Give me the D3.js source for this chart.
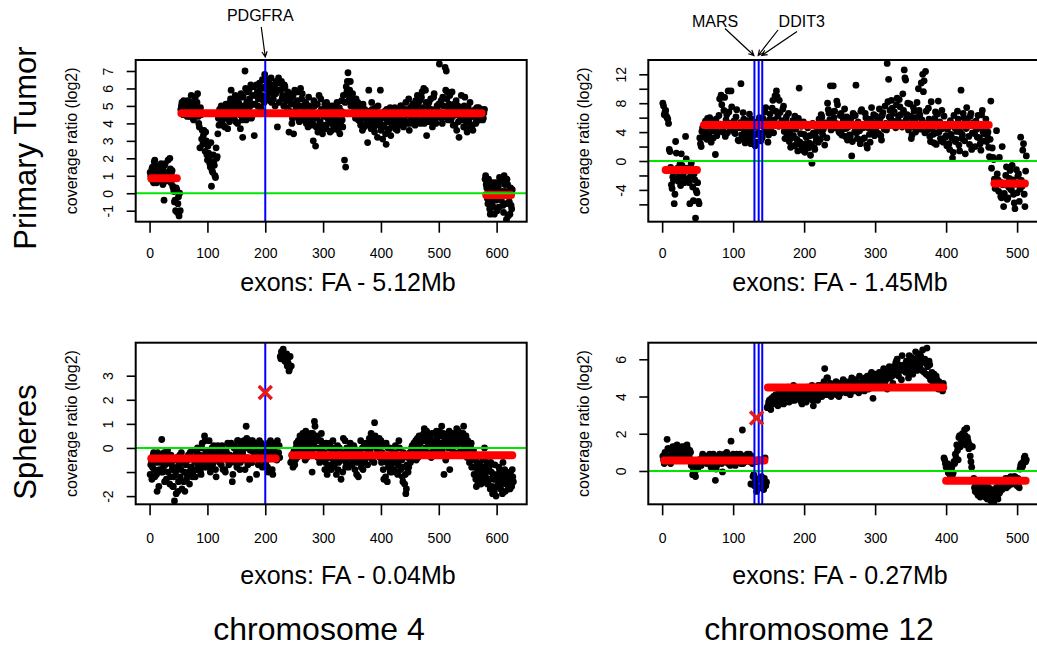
<!DOCTYPE html>
<html>
<head>
<meta charset="utf-8">
<script src="https://cdn.jsdelivr.net/npm/d3@7"></script>
<style>
  body { margin: 0; background: #fff; }
  svg { display: block; font-family: "Liberation Sans", Arial, Helvetica, sans-serif; }
</style>
</head>
<body>
<svg id="chart" width="1037" height="648"></svg>
<script>
// log2 coverage ratio per exon; "_odd" lists exons 1,3,5,..  "_even" lists exons 2,4,6,..

// chromosome 4, primary tumor
const chr4_tumor_odd = [
  1.2,0.8,1.5,0.6,1.9,1.0,0.7,1.3,1.6,0.9, 1.1,0.5,-0.4,1.7,0.8,1.2,1.0,2.0,0.6,1.3,
  0.3,-0.5,-1.0,0.2,-0.6,-1.3,-1.0,5.0,4.6,5.3, 4.8,5.2,4.4,4.9,5.0,4.6,5.2,4.3,4.9,5.5,
  4.7,5.7,4.0,2.6,4.5,3.6,3.3,2.9,3.5,2.2, 2.7,2.0,1.5,0.4,1.2,1.8,1.0,2.6,2.1,4.3,
  4.8,4.0,4.5,3.9,4.9,4.3,5.0,3.7,4.6,5.2, 5.9,4.4,4.8,5.3,4.1,5.0,4.6,5.5,3.7,4.9,
  3.2,5.0,7.0,4.2,5.8,4.8,5.4,6.2,4.4,5.1, 3.3,5.6,6.2,5.0,5.7,6.0,4.8,6.5,5.3,6.8,
  5.5,6.4,6.5,5.9,6.0,5.2,6.2,5.7,5.0,6.4, 3.8,6.6,5.9,6.3,5.4,6.0,6.2,5.5,4.6,5.8,
  3.5,5.7,5.1,4.3,3.4,5.9,4.8,5.3,4.5,4.1, 6.0,5.4,4.2,4.9,5.1,4.0,4.6,5.5,4.4,3.9,
  4.7,3.0,5.0,2.7,4.3,3.5,5.6,4.1,4.8,3.4, 4.4,5.1,3.7,4.6,4.0,5.0,4.3,3.6,4.9,4.2,
  5.0,3.8,4.5,4.1,3.4,4.7,4.2,5.6,1.9,1.5, 5.8,6.9,5.6,6.4,5.2,5.7,5.0,4.8,5.4,4.5,
  4.2,4.9,3.9,4.6,5.1,3.8,4.4,4.0,2.9,5.9, 4.5,3.7,4.8,4.1,3.5,4.6,4.0,5.0,3.9,5.9,
  4.3,3.1,3.8,4.7,2.8,4.2,3.6,4.5,3.3,4.0, 4.6,4.1,3.7,4.8,4.3,3.9,4.5,5.0,4.2,3.8,
  4.4,5.2,4.0,4.7,3.6,4.9,4.3,5.1,4.5,3.9, 4.8,5.6,4.1,5.3,4.6,5.8,4.3,4.0,5.9,3.3,
  4.6,5.2,4.1,4.8,3.8,5.5,4.4,4.0,5.0,4.7, 7.4,5.1,4.3,5.5,4.6,7.2,7.0,5.8,4.8,5.6,
  4.2,5.8,3.9,5.1,4.5,3.6,5.0,3.2,4.4,5.6, 4.7,3.8,5.5,4.1,3.5,4.9,4.3,3.9,4.6,3.6,
  4.4,4.8,4.1,4.6,4.9,4.2,4.7,4.5,4.3,4.8, 1.0,0.3,-0.6,0.5,-1.2,-0.1,0.6,-0.8,0.2,-0.4,
  -1.0,0.4,0.9,-0.3,0.7,-0.7,1.0,0.1,-1.5,0.5, -0.2,-1.2,-0.7,0.2
];
const chr4_tumor_even = [
  1.0,1.4,0.7,1.8,1.1,0.6,1.5,0.9,1.2,1.7, 0.8,1.3,1.6,0.7,1.1,1.9,0.9,1.4,1.2,0.4,
  0.1,-0.4,0.3,-1.1,-0.2,0.0,4.8,5.2,4.5,5.0, 5.1,4.5,5.3,4.7,4.4,5.6,4.9,4.2,5.0,4.6,
  5.2,4.4,3.8,4.9,3.1,2.8,3.6,2.4,3.0,1.9, 2.3,1.7,2.9,1.3,2.2,1.6,0.9,2.0,3.4,3.9,
  4.5,5.0,4.2,4.7,3.8,5.1,4.4,4.9,4.1,5.4, 4.6,5.0,4.3,5.6,4.8,4.0,5.2,4.5,5.7,4.2,
  5.5,4.7,6.0,5.2,4.5,5.9,5.0,4.3,5.6,6.1, 5.1,4.6,5.8,5.4,6.3,4.9,5.6,6.0,5.2,6.1,
  6.0,5.6,6.3,5.3,6.6,5.8,5.4,6.1,5.7,5.9, 6.3,5.2,5.9,6.4,5.6,5.0,6.1,5.3,4.9,5.5,
  4.7,5.4,4.0,5.6,4.4,5.1,4.6,5.8,4.2,5.0, 4.5,5.7,4.8,4.3,5.2,4.6,3.8,5.0,4.2,4.8,
  4.0,5.3,4.4,3.8,5.1,4.5,4.0,5.4,3.7,4.6, 4.8,3.9,5.2,4.3,4.7,3.5,4.5,5.0,3.9,4.6,
  4.3,5.2,3.6,4.9,4.0,5.3,3.8,4.6,5.2,6.1, 6.4,5.3,5.9,5.0,5.5,4.6,5.1,4.3,4.9,5.2,
  4.6,4.1,5.0,3.6,4.3,4.8,3.9,4.5,4.2,4.7, 4.0,5.2,4.4,3.8,4.9,4.3,3.2,4.6,4.1,3.6,
  4.6,3.9,4.4,3.4,4.8,4.1,3.7,4.9,4.3,3.9, 4.2,4.9,4.4,3.6,4.7,4.1,5.0,4.4,3.9,4.6,
  4.8,4.1,4.5,5.4,4.0,4.6,5.0,4.2,4.8,5.3, 4.4,5.1,4.7,4.0,5.5,4.9,6.0,4.5,5.2,4.1,
  4.9,4.3,5.4,4.1,4.6,5.7,4.2,4.8,4.4,5.1, 4.6,5.3,4.0,5.0,4.4,5.9,5.4,4.2,5.1,4.5,
  5.0,4.4,4.8,3.9,5.3,4.6,4.1,4.9,4.3,4.7, 4.2,5.0,4.5,3.7,4.8,4.1,5.2,4.4,3.9,4.7,
  4.6,4.0,4.9,4.3,4.7,4.5,4.8,4.2,4.6,0.8, 0.5,-0.3,0.8,-0.9,0.2,-0.5,0.4,-1.2,0.6,-0.2,
  0.3,-0.8,0.7,-0.4,0.1,-1.1,0.5,-0.6,0.8,-1.3, -0.5,0.3,-0.9
];
// segments: [first exon, last exon, segment mean]
const chr4_tumor_segments = [[3, 47, 0.86], [55, 574, 4.58], [582, 625, -0.1]];

// chromosome 12, primary tumor
const chr12_tumor_odd = [
  8.0,6.4,7.0,6.0,5.2,1.3,-3.3,-2.2,-5.9,2.7, -1.5,-2.8,-0.5,1.0,-2.0,-3.0,3.4,-1.0,-2.4,-5.9,
  -0.3,-3.6,-1.8,-7.9,-4.4,-5.6,3.2,2.0,4.6,3.8, 5.5,3.0,4.8,6.0,2.6,4.2,5.3,0.9,3.5,5.0,
  8.6,9.1,4.0,7.0,3.4,6.4,9.7,5.2,9.7,4.4, 5.5,3.8,7.1,2.9,4.6,10.7,3.2,5.8,2.5,4.3,
  3.6,6.5,2.4,4.0,5.3,2.1,3.7,4.8,6.0,2.8, 3.3,5.1,6.8,4.2,2.6,5.7,4.5,7.3,3.9,9.0,
  9.7,6.2,8.4,4.9,5.6,7.6,3.1,6.1,4.3,2.7, 1.9,4.8,3.5,6.2,2.3,1.4,10.1,3.8,2.0,5.4,
  1.2,3.3,4.6,2.5,0.8,-0.3,3.9,1.6,2.8,4.2, 5.8,3.0,6.1,4.4,2.2,5.1,8.0,6.6,10.4,5.5,
  10.4,6.9,5.2,7.8,4.1,6.3,3.6,5.6,7.2,4.5, 2.9,5.8,3.4,0.7,6.6,4.0,10.5,3.1,5.0,2.4,
  7.1,4.6,3.2,6.0,1.8,5.5,2.6,7.4,4.2,3.5, 6.2,4.8,3.8,5.9,2.9,6.7,4.4,5.2,13.5,11.3,
  7.0,8.4,5.5,6.8,4.6,8.7,6.2,7.5,5.3,9.3, 12.6,11.2,6.4,4.3,7.9,3.1,5.6,6.9,4.0,8.1,
  10.0,6.4,10.8,12.0,11.1,12.4,5.2,7.3,3.4,8.2, 4.6,2.5,6.8,3.9,8.3,5.4,2.8,4.5,6.2,3.3,
  2.1,5.0,1.6,3.7,0.4,6.3,2.7,4.1,5.8,1.4, 9.8,3.6,6.0,1.0,7.4,4.8,2.3,6.6,3.9,5.3,
  2.0,4.4,6.3,3.2,1.5,7.0,3.8,5.2,2.7,4.0, 0.6,8.3,1.8,0.2,-3.8,4.2,-2.6,0.5,-4.9,2.0,
  -6.3,-3.1,-0.8,-5.1,-2.4,-3.9,-0.6,-4.6,-6.6,-1.2, -2.1,-5.6,3.3,-3.5,2.4,-6.3,0.7
];
const chr12_tumor_even = [
  7.6,6.8,6.2,5.8,1.6,-0.9,-3.8,-2.7,-4.6,1.1, -1.0,-2.2,-3.4,-0.6,-1.7,-2.6,0.3,-1.3,-3.0,-2.1,
  -1.1,-5.5,-2.6,-4.1,-3.0,-5.9,2.4,4.1,3.3,5.1, 4.3,5.9,3.6,4.7,5.5,3.2,4.4,5.8,4.0,6.3,
  5.1,7.8,4.6,8.8,5.7,3.9,6.8,4.3,7.5,5.0, 3.9,6.1,4.7,2.8,5.3,3.6,6.7,4.1,3.0,5.6,
  4.4,2.9,5.8,3.5,4.7,2.6,5.4,3.9,4.9,3.1, 5.9,4.0,7.4,5.2,3.6,6.5,4.8,8.4,5.7,6.9,
  8.9,4.8,6.7,5.3,7.2,4.1,5.5,3.5,6.6,4.0, 3.2,5.6,2.1,4.4,3.0,5.9,2.6,4.8,1.5,3.7,
  2.4,4.9,1.8,3.5,2.3,5.2,1.9,3.4,4.7,2.6, 4.5,6.4,3.7,5.3,4.9,3.2,7.1,5.7,4.3,6.8,
  6.0,4.6,8.3,5.0,3.9,6.6,4.4,5.9,3.4,6.1, 4.7,3.6,5.9,2.7,4.8,6.3,3.9,5.4,4.2,6.9,
  3.0,5.0,6.6,2.2,4.6,3.7,5.8,4.9,6.4,5.3, 4.0,5.5,7.2,3.5,6.3,5.0,7.6,4.3,8.2,6.1,
  5.9,7.3,6.6,4.9,7.8,5.6,8.5,6.4,4.7,7.0, 11.5,5.8,8.0,4.9,6.2,3.6,7.4,4.6,6.0,5.1,
  7.0,4.4,5.7,9.6,3.9,6.9,4.3,5.8,2.7,4.5, 3.7,5.9,2.3,6.5,4.0,3.1,7.0,2.6,4.8,3.5,
  4.4,2.4,5.6,3.2,1.2,4.6,3.0,6.9,2.2,4.0, 3.1,6.6,2.8,4.5,5.7,3.4,6.2,1.6,4.9,3.8,
  5.5,3.3,4.7,2.4,6.4,4.1,2.8,5.8,3.6,1.9, 3.0,-1.0,0.5,-2.5,-3.6,-1.8,-4.2,-2.9,-5.1,-3.3,
  -4.5,-2.0,-5.3,-3.6,-1.3,-4.0,-2.6,-5.8,-3.2,-4.4, -1.8,-3.9,-2.7,1.5,-4.6,-1.4
];
const chr12_tumor_segments = [[5, 49, -1.25], [59, 460, 4.98], [468, 511, -3.1]];

// chromosome 4, spheres
const chr4_spheres_odd = [
  -1.1,-0.5,-0.8,-0.2,-1.2,-0.6,-1.8,-0.4,-0.9,-0.3, 0.35,-1.0,-0.2,-0.7,-1.3,-0.1,-0.6,-1.5,-0.3,-0.9,
  -1.6,-2.2,-1.0,-0.4,-1.8,-0.7,-1.2,-0.2,-0.5,-1.4, -1.8,-0.6,-1.1,-0.3,-1.5,-0.8,-0.1,-1.0,-0.4,-1.2,
  -0.5,0.0,-0.9,-0.3,-1.1,0.2,-0.6,0.5,-0.2,-0.8, -0.4,0.3,-1.0,-0.1,-0.7,0.1,-0.5,-1.2,-0.2,0.0,
  -0.6,-0.3,0.1,-0.9,-0.4,-1.0,-0.2,0.2,-0.7,-0.3, 0.2,-1.4,-0.5,0.1,-0.3,-0.8,0.3,-0.1,-0.6,0.2,
  -0.2,0.3,-0.9,0.9,-0.4,0.0,-1.3,0.3,-0.6,0.1, -0.3,0.2,-1.1,-0.1,0.1,-0.5,0.2,-0.8,-0.2,0.0,
  -0.6,0.1,-1.0,-0.3,0.3,-0.4,-1.1,0.0,-0.2,0.2, 0.3,-0.2,-0.4,3.7,3.9,4.1,3.8,3.6,3.9,3.7,
  3.2,3.8,3.4,-0.5,-0.2,-0.7,0.0,-0.4,0.3,-0.1, 0.4,-0.3,0.6,0.1,-0.5,0.3,0.5,-0.1,0.2,0.6,
  -1.0,0.4,1.1,0.0,0.5,-0.4,0.3,-0.2,0.6,0.1, -0.5,-0.9,0.2,-1.1,-0.3,0.0,-0.7,-0.4,0.3,-0.8,
  -0.2,-1.1,0.1,-0.6,-0.3,-1.3,-0.5,0.4,-0.2,-0.8, 0.0,-0.4,-0.7,0.2,-0.1,-0.5,0.1,-0.9,-0.3,-0.6,
  -1.2,-0.2,0.3,-0.6,-0.9,0.1,-0.4,0.0,-0.7,0.2, -0.1,0.6,-0.5,0.3,1.05,0.2,-0.3,0.1,0.4,-0.2,
  -0.6,0.1,-1.3,-0.4,0.2,-1.4,-0.8,0.0,-0.5,-1.0, -0.3,-0.9,0.1,-0.6,-1.1,0.3,-0.4,-0.8,-1.2,-0.2,
  -1.5,-1.9,-0.7,-1.0,-0.3,-0.6,0.0,-0.4,0.2,-0.1, -0.5,0.4,0.1,-0.3,0.5,-0.2,0.3,0.8,0.0,0.7,
  -0.3,0.2,0.5,-0.4,0.3,0.0,0.6,-0.1,0.4,0.2, 0.7,-0.2,0.9,0.1,-1.1,0.3,-0.4,0.5,0.0,-0.9,
  0.4,0.1,-0.2,0.5,0.2,0.8,-0.3,0.4,0.6,-0.1, 0.3,0.9,0.0,0.5,-0.4,0.2,-0.6,0.1,-0.8,-0.4,
  -1.1,-0.5,-1.6,-0.9,-1.3,-0.7,-1.5,-1.0,-0.3,0.0, -1.2,-0.6,-1.4,-0.8,-1.7,-1.0,-1.9,-1.3,-0.7,-2.0,
  -1.1,-1.5,-0.9,-1.7,-1.2,-0.6,-1.4,-1.8,-1.0,-1.5, -1.3,-1.7,-1.2,-0.9,-1.4
];
const chr4_spheres_even = [
  -0.7,-1.3,-0.3,-0.9,-0.5,-1.1,-0.2,-1.6,-0.6,-1.0, -0.4,-0.8,-1.4,-0.3,-0.6,-1.0,-0.5,-1.2,-0.7,-1.6,
  -1.2,-0.5,-1.9,-0.8,-1.4,-0.3,-0.9,-1.7,-0.6,-1.0, -0.7,-1.3,-0.5,-1.0,-0.2,-0.8,-1.2,-0.4,-0.6,-0.9,
  -0.2,-0.7,-0.4,-1.0,0.0,-0.5,-0.8,0.3,-0.4,-0.6, -0.1,-0.8,-0.3,0.0,-0.6,-0.2,-0.9,-0.4,0.1,-0.5,
  -0.2,-0.7,0.0,-0.4,-0.9,-0.1,-0.5,-0.3,0.1,-0.6, -0.4,-1.1,0.0,-0.6,-0.2,0.3,-0.4,-0.9,0.1,-0.3,
  0.2,-0.5,0.0,0.4,-0.7,0.2,-0.1,-0.6,0.3,-0.2, 0.1,-0.4,0.0,-0.7,0.3,-0.2,-0.5,0.1,-0.3,-0.6,
  -0.2,-0.8,0.2,-0.4,-0.1,-0.9,0.1,-0.3,0.2,-0.5, -0.3,0.1,3.8,4.0,3.7,3.9,3.6,3.8,3.4,3.5,
  3.3,-0.6,-0.3,-0.8,-0.1,-0.5,0.2,-0.3,0.0,0.5, 0.2,-0.2,0.4,0.0,0.7,-0.4,0.3,0.1,0.5,-0.1,
  0.6,0.2,0.9,-0.3,0.4,0.0,-0.6,0.3,-0.1,0.2, -0.2,-0.6,0.1,-0.8,-0.4,0.2,-0.9,-0.1,-0.5,0.0,
  -0.6,-0.3,-0.9,0.0,-0.5,-0.2,-1.0,-0.4,0.3,-0.6, -0.2,-0.8,-0.4,0.1,-0.7,-0.3,0.0,-0.5,-1.1,-0.2,
  -0.5,-0.1,-0.8,0.0,-0.3,-0.6,0.2,-0.4,-0.1,0.4, 0.1,-0.3,0.3,-0.6,0.5,0.0,-0.2,0.2,-0.4,0.3,
  -0.2,-0.9,-0.4,-1.2,-0.6,0.0,-0.3,-1.0,-0.7,-0.2, -0.6,-0.2,-1.0,-0.4,-0.7,0.0,-0.9,-0.5,-1.4,-0.8,
  -1.1,-1.7,-0.4,-0.8,-0.2,-0.5,0.1,-0.3,0.0,0.3, 0.0,-0.4,0.5,0.2,-0.1,0.4,0.6,-0.2,0.3,0.5,
  0.1,0.4,-0.2,0.6,0.2,-0.3,0.3,0.7,0.0,0.5, 0.2,0.5,-0.1,0.6,0.3,-0.5,0.4,0.1,0.7,0.2,
  0.0,0.6,0.3,-0.2,0.5,0.1,0.7,0.2,-0.1,0.4, 0.6,0.1,0.4,-0.2,0.3,0.0,-0.3,0.2,-0.5,-0.1,
  -0.8,-1.3,-0.6,-1.5,-1.1,-0.9,-1.2,-0.5,-1.4,-0.8, -1.0,-1.5,-0.9,-1.3,-0.6,-1.6,-1.1,-1.8,-1.3,-1.6,
  -1.3,-0.8,-1.6,-1.1,-1.9,-1.4,-0.9,-1.5,-1.2,-1.7, -1.5,-1.0,-1.6,-1.2
];
const chr4_spheres_segments = [[3, 218, -0.44], [247, 627, -0.3]];

// chromosome 12, spheres
const chr12_spheres_odd = [
  0.8,0.4,0.6,1.7,1.2,0.5,0.9,1.3,0.7,1.1, 1.4,0.8,1.2,0.6,1.0,1.3,0.9,1.4,0.7,1.1,
  0.3,-0.2,0.1,-0.3,0.4,0.2,0.6,0.3,0.9,0.5, 0.8,0.4,0.7,0.9,0.2,0.6,0.8,-0.5,0.3,0.7,
  0.9,0.5,-0.05,0.8,0.6,1.0,0.4,0.7,1.6,0.5, 0.8,0.3,0.9,0.6,0.7,0.4,2.2,0.8,0.5,0.7,
  0.6,0.9,-0.7,0.4,-0.2,-0.6,-1.1,0.6,-0.4,-0.9, -0.5,-1.0,0.7,-0.6,3.5,3.8,3.3,3.6,4.0,3.7,
  3.9,3.5,4.2,3.8,4.4,3.6,4.1,3.9,4.5,3.7, 4.3,4.0,4.6,3.8,4.2,4.4,3.9,4.1,3.6,4.3,
  4.0,3.7,4.5,3.9,4.2,4.6,3.5,4.1,4.4,3.8, 4.3,4.6,4.0,4.4,5.5,4.1,5.0,4.3,4.7,4.2,
  4.5,4.2,4.8,4.4,4.0,4.7,4.3,4.9,4.5,4.2, 4.6,4.4,4.1,5.0,4.5,4.3,4.8,4.6,4.2,4.7,
  4.5,4.9,4.3,4.7,5.1,4.4,4.8,5.3,3.9,4.9, 5.2,4.6,5.0,4.8,5.3,4.5,5.1,4.9,4.4,5.4,
  5.0,5.5,4.7,5.2,5.8,6.0,5.1,5.6,4.9,5.4, 5.7,5.3,5.9,5.0,5.5,6.1,5.2,5.8,6.4,5.4,
  5.9,5.6,6.0,6.5,5.3,5.8,6.6,5.1,5.7,5.0, 4.8,5.2,4.6,4.9,4.4,4.7,4.5,4.3,0.7,0.4,
  0.2,-0.1,0.3,0.1,-0.2,0.5,0.9,1.4,0.6,1.9, 1.5,2.0,1.7,1.9,2.3,1.6,1.4,0.5,1.3,-0.4,
  -1.1,-0.7,-1.3,-0.9,-1.2,-0.6,-1.0,-1.4,-0.8,-1.1, -1.3,-1.6,-1.0,-1.7,-1.4,-0.9,-1.5,-1.2,-0.7,-1.0,
  -0.8,-0.5,-0.9,-0.4,-0.6,-0.3,-0.7,-0.5,-0.3,-0.6, -0.4,-0.9,0.3,0.2,0.5,0.8,0.6
];
const chr12_spheres_even = [
  0.6,1.0,0.5,1.2,0.8,0.4,1.1,0.7,1.3,0.9, 1.0,1.2,0.7,1.3,0.9,1.1,0.6,1.2,0.8,1.0,
  0.5,0.0,-0.2,0.3,0.1,0.6,0.4,0.7,0.5,0.8, 0.6,0.8,0.5,0.7,0.3,0.9,0.5,0.1,0.6,0.8,
  0.7,0.4,0.6,0.9,0.5,0.8,0.6,0.3,0.7,0.9, 0.6,0.8,0.5,0.7,0.9,0.6,0.4,0.8,0.6,0.9,
  0.7,0.5,0.8,-0.3,-0.8,0.5,-0.5,-0.9,0.6,-0.3, -0.7,-0.4,-0.8,3.4,3.7,3.5,3.9,3.6,3.8,4.1,
  3.7,4.0,3.6,4.3,3.8,4.1,3.7,4.4,4.0,3.8, 4.1,3.8,4.2,4.5,3.9,4.0,4.3,3.7,4.2,4.0,
  4.2,4.4,3.9,4.1,4.3,3.8,4.5,4.0,4.2,4.6, 4.1,4.5,4.2,4.8,4.4,5.0,4.3,4.6,4.0,4.4,
  4.3,4.6,4.1,4.5,4.7,4.2,4.6,4.4,4.8,4.3, 4.5,4.8,4.3,4.6,4.4,4.9,4.7,4.4,5.1,4.6,
  4.8,4.5,5.0,4.6,4.9,4.7,5.2,4.6,5.0,4.8, 5.0,4.7,5.3,4.9,5.1,5.5,4.8,5.2,5.0,5.6,
  5.3,5.1,5.6,5.4,5.9,5.2,5.7,5.5,6.2,5.6, 5.5,5.9,5.6,6.2,5.3,5.8,5.6,6.0,5.5,6.3,
  5.7,6.2,5.4,5.9,6.0,5.2,5.6,5.9,4.9,5.3, 5.0,4.7,5.1,4.5,4.8,4.6,4.4,4.7,0.6,0.2,
  0.4,0.0,-0.3,0.2,-0.1,0.4,0.7,1.1,1.8,1.3, 1.9,1.6,2.2,1.4,1.8,1.2,0.8,0.2,-0.5,-0.9,
  -0.8,-1.2,-0.7,-1.4,-1.0,-1.3,-0.9,-1.2,-1.5,-0.9, -1.2,-1.4,-1.8,-1.1,-1.5,-1.3,-0.8,-1.1,-0.9,-0.6,
  -0.7,-0.4,-0.6,-0.8,-0.5,-0.4,-0.6,-0.3,-0.5,-0.8, -0.6,0.1,0.4,0.3,0.7,0.5
];
const chr12_spheres_segments = [[3, 144, 0.56], [149, 396, 4.48], [400, 512, -0.52]];

// gene positions (exon index) and the red-cross calls in spheres [exon, log2 ratio]
const chr4_genes = [200];
const chr12_genes = [130, 136, 141];
const chr4_sphere_call = [200, 2.3];
const chr12_sphere_call = [133, 2.85];

// axis ticks
const chr4_xticks = [0, 100, 200, 300, 400, 500, 600];
const chr12_xticks = [0, 100, 200, 300, 400, 500];
const chr4_tumor_yticks = [-1, 0, 1, 2, 3, 4, 5, 6, 7];
const chr4_tumor_ylabels = [-1, 0, 1, 2, 3, 4, 5, 6, 7];
const chr12_tumor_yticks = [-6, -4, -2, 0, 2, 4, 6, 8, 10, 12];
const chr12_tumor_ylabels = [-4, 0, 4, 8, 12];
const chr4_spheres_yticks = [-2, -1, 0, 1, 2, 3];
const chr4_spheres_ylabels = [-2, 0, 1, 2, 3];
const chr12_spheres_yticks = [0, 2, 4, 6];
const chr12_spheres_ylabels = [0, 2, 4, 6];

const xlabels = ["exons: FA - 5.12Mb", "exons: FA - 1.45Mb", "exons: FA - 0.04Mb", "exons: FA - 0.27Mb"];
const row_titles = ["Primary Tumor", "Spheres"];
const col_titles = ["chromosome 4", "chromosome 12"];

const svg = d3.select("#chart");

const panels = [
  { id: 1, odd: chr4_tumor_odd, even: chr4_tumor_even, segments: chr4_tumor_segments, genes: chr4_genes, cross: null,
    xdom: [-24, 652], ydom: [-1.63, 7.63], xticks: chr4_xticks, yticks: chr4_tumor_yticks, ylabels: chr4_tumor_ylabels,
    left: 135.7, right: 526.7, top: 60, bottom: 221.7, tickBase: 258.3, xlab: xlabels[0], xlabX: 348, xlabY: 290.7 },
  { id: 2, odd: chr12_tumor_odd, even: chr12_tumor_even, segments: chr12_tumor_segments, genes: chr12_genes, cross: null,
    xdom: [-19.5, 534.5], ydom: [-8.40, 13.98], xticks: chr12_xticks, yticks: chr12_tumor_yticks, ylabels: chr12_tumor_ylabels,
    left: 648.3, right: 1041.6, top: 60, bottom: 221.7, tickBase: 258.3, xlab: xlabels[1], xlabX: 840, xlabY: 290.7 },
  { id: 3, odd: chr4_spheres_odd, even: chr4_spheres_even, segments: chr4_spheres_segments, genes: chr4_genes, cross: chr4_sphere_call,
    xdom: [-24, 652], ydom: [-2.34, 4.37], xticks: chr4_xticks, yticks: chr4_spheres_yticks, ylabels: chr4_spheres_ylabels,
    left: 135.7, right: 526.7, top: 342.7, bottom: 504.3, tickBase: 543.3, xlab: xlabels[2], xlabX: 348, xlabY: 584 },
  { id: 4, odd: chr12_spheres_odd, even: chr12_spheres_even, segments: chr12_spheres_segments, genes: chr12_genes, cross: chr12_sphere_call,
    xdom: [-19.5, 534.5], ydom: [-1.79, 6.89], xticks: chr12_xticks, yticks: chr12_spheres_yticks, ylabels: chr12_spheres_ylabels,
    left: 648.3, right: 1041.6, top: 342.7, bottom: 504.3, tickBase: 543.3, xlab: xlabels[3], xlabX: 840, xlabY: 584 }
];

const scales = {};

panels.forEach(p => {
  const x_scale = d3.scaleLinear().domain(p.xdom).range([p.left, p.right]);
  const y_scale = d3.scaleLinear().domain(p.ydom).range([p.bottom, p.top]);
  scales[p.id] = { x_scale, y_scale };

  const g = svg.append("g").attr("class", "panel" + p.id);
  svg.append("clipPath").attr("id", "clip" + p.id)
    .append("rect")
    .attr("x", p.left).attr("y", p.top)
    .attr("width", p.right - p.left).attr("height", p.bottom - p.top);

  const plot = g.append("g").attr("clip-path", `url(#clip${p.id})`);

  const pts = p.odd.map((v, k) => ({ i: 1 + 2 * k, v }))
    .concat(p.even.map((v, k) => ({ i: 2 + 2 * k, v })))
    .sort((a, b) => a.i - b.i);

  // points
  plot.selectAll("circle")
    .data(pts)
    .join("circle")
    .attr("cx", d => x_scale(d.i))
    .attr("cy", d => y_scale(d.v))
    .attr("r", 3.4)
    .attr("fill", "#000");

  // segment means
  plot.selectAll(".seg")
    .data(p.segments)
    .join("line")
    .attr("class", "seg")
    .attr("x1", d => x_scale(d[0]))
    .attr("x2", d => x_scale(d[1]))
    .attr("y1", d => y_scale(d[2]))
    .attr("y2", d => y_scale(d[2]))
    .attr("stroke", "#ff0000")
    .attr("stroke-width", 8)
    .attr("stroke-linecap", "round");

  // zero line
  plot.append("line")
    .attr("x1", p.left).attr("x2", p.right)
    .attr("y1", y_scale(0)).attr("y2", y_scale(0))
    .attr("stroke", "#00e600")
    .attr("stroke-width", 2);

  // gene positions
  plot.selectAll(".gene")
    .data(p.genes)
    .join("line")
    .attr("class", "gene")
    .attr("x1", d => x_scale(d)).attr("x2", d => x_scale(d))
    .attr("y1", p.top).attr("y2", p.bottom)
    .attr("stroke", "#0000ff")
    .attr("stroke-width", 2);

  // red cross for the sphere call
  if (p.cross) {
    const cx = x_scale(p.cross[0]), cy = y_scale(p.cross[1]), s = 6.5;
    g.append("path")
      .attr("d", `M${cx - s},${cy - s}L${cx + s},${cy + s}M${cx - s},${cy + s}L${cx + s},${cy - s}`)
      .attr("stroke", "#e41a1c")
      .attr("stroke-width", 3.5)
      .attr("fill", "none");
  }

  // box
  g.append("rect")
    .attr("x", p.left).attr("y", p.top)
    .attr("width", p.right - p.left).attr("height", p.bottom - p.top)
    .attr("fill", "none")
    .attr("stroke", "#000")
    .attr("stroke-width", 2);

  // x axis
  const xa = g.append("g")
    .attr("transform", `translate(0, ${p.bottom})`)
    .call(d3.axisBottom(x_scale).tickValues(p.xticks).tickSize(11).tickFormat(d3.format("d")));
  xa.select(".domain").remove();
  xa.selectAll("line").attr("stroke-width", 1.6);
  xa.selectAll("text")
    .attr("y", p.tickBase - p.bottom)
    .attr("dy", null)
    .attr("font-size", 14)
    .attr("font-family", null)
    .attr("fill", "#000");

  // y axis
  const ya = g.append("g")
    .attr("transform", `translate(${p.left}, 0)`)
    .call(d3.axisLeft(y_scale).tickValues(p.yticks).tickSize(9)
      .tickFormat(d => p.ylabels.includes(d) ? String(d) : ""));
  ya.select(".domain").remove();
  ya.selectAll("line").attr("stroke-width", 1.6);
  ya.selectAll("text")
    .attr("x", null).attr("dy", null)
    .attr("text-anchor", "middle")
    .attr("transform", "translate(-22.5, 0) rotate(-90)")
    .attr("font-size", 14)
    .attr("font-family", null)
    .attr("fill", "#000");

  // axis titles
  g.append("text")
    .attr("transform", `translate(${p.left - 59}, ${(p.top + p.bottom) / 2}) rotate(-90)`)
    .attr("text-anchor", "middle")
    .attr("font-size", 16)
    .text("coverage ratio (log2)");

  g.append("text")
    .attr("x", p.xlabX).attr("y", p.xlabY)
    .attr("text-anchor", "middle")
    .attr("font-size", 25)
    .text(p.xlab);
});

// gene labels with pointers
function pointer(x1, y1, x2, y2) {
  const ang = Math.atan2(y2 - y1, x2 - x1), len = 6, spread = 0.45;
  svg.append("path")
    .attr("d", `M${x1},${y1}L${x2},${y2}` +
      `M${x2 - len * Math.cos(ang - spread)},${y2 - len * Math.sin(ang - spread)}L${x2},${y2}` +
      `L${x2 - len * Math.cos(ang + spread)},${y2 - len * Math.sin(ang + spread)}`)
    .attr("stroke", "#000")
    .attr("stroke-width", 1.2)
    .attr("fill", "none");
}

const s1 = scales[1], s2 = scales[2];
svg.append("text").attr("x", s1.x_scale(chr4_genes[0]) - 5).attr("y", 20.7)
  .attr("text-anchor", "middle").attr("font-size", 16).text("PDGFRA");
pointer(s1.x_scale(chr4_genes[0]) - 4, 27, s1.x_scale(chr4_genes[0]), 57);

svg.append("text").attr("x", 715).attr("y", 26.7)
  .attr("text-anchor", "middle").attr("font-size", 16).text("MARS");
svg.append("text").attr("x", 801.7).attr("y", 26.7)
  .attr("text-anchor", "middle").attr("font-size", 16).text("DDIT3");
pointer(725, 28.5, s2.x_scale(chr12_genes[0]) - 0.5, 55.5);
pointer(778, 30, s2.x_scale(chr12_genes[1]) - 0.5, 55.5);
pointer(797, 31.5, s2.x_scale(chr12_genes[2]) - 0.5, 55.5);

// row and column titles
svg.selectAll(".rowtitle")
  .data(row_titles)
  .join("text")
  .attr("class", "rowtitle")
  .attr("transform", (d, k) => `translate(36, ${k === 0 ? 148 : 442}) rotate(-90)`)
  .attr("text-anchor", "middle")
  .attr("font-size", 31)
  .text(d => d);

svg.selectAll(".coltitle")
  .data(col_titles)
  .join("text")
  .attr("class", "coltitle")
  .attr("x", (d, k) => k === 0 ? 319 : 819)
  .attr("y", 640)
  .attr("text-anchor", "middle")
  .attr("font-size", 32)
  .text(d => d);
</script>
</body>
</html>
